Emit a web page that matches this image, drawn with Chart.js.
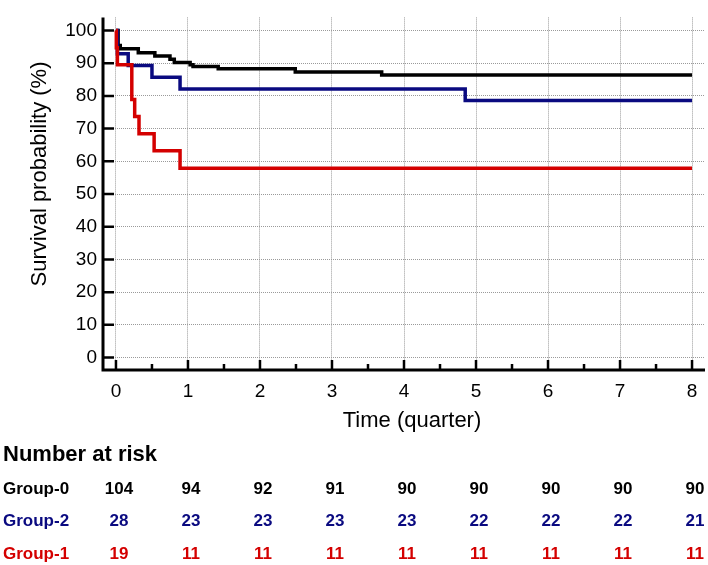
<!DOCTYPE html>
<html>
<head>
<meta charset="utf-8">
<script src="https://cdn.jsdelivr.net/npm/chart.js@4.4.1/dist/chart.umd.min.js"></script>
<style>
  body { margin: 0; background: #fff; }
  #wrap { width: 708px; height: 565px; }
</style>
</head>
<body>
<div id="wrap"><canvas id="kmChart" width="708" height="565"></canvas></div>
<script>
// Kaplan-Meier steps (time in quarters, survival in %)
var timeGroup0 = [0, 0.03, 0.06, 0.31, 0.54, 0.75, 0.81, 1.03, 1.07, 1.42, 2.49, 3.69, 8];
var survGroup0 = [100, 95.4, 94.4, 93.2, 92.2, 91.2, 90.2, 89.5, 89.0, 88.3, 87.3, 86.4, 86.4];

var timeGroup2 = [0, 0.02, 0.17, 0.5, 0.89, 4.85, 8];
var survGroup2 = [100, 92.9, 89.3, 85.7, 82.1, 78.6, 78.6];

var timeGroup1 = [0, 0.005, 0.02, 0.22, 0.26, 0.32, 0.53, 0.89, 8];
var survGroup1 = [100, 94.7, 89.5, 78.9, 73.7, 68.4, 63.2, 57.9, 57.9];

var xTicks = [0, 1, 2, 3, 4, 5, 6, 7, 8];
var yTicks = [0, 10, 20, 30, 40, 50, 60, 70, 80, 90, 100];

// number at risk table
var riskTimes = [0, 1, 2, 3, 4, 5, 6, 7, 8];
var riskGroup0 = [104, 94, 92, 91, 90, 90, 90, 90, 90];
var riskGroup2 = [28, 23, 23, 23, 23, 22, 22, 22, 21];
var riskGroup1 = [19, 11, 11, 11, 11, 11, 11, 11, 11];

var BLACK = '#000000';
var BLUE = '#0a0a80';
var RED = '#d40000';
var FONT = '"Liberation Sans", Arial, sans-serif';

function toPoints(xs, ys) {
    return xs.map((x, i) => ({ x: x, y: ys[i] }));
}

var axesAndTable = {
    id: 'axesAndTable',
    afterDraw(chart) {
        var ctx = chart.ctx;
        var area = chart.chartArea;
        var xs = chart.scales.x;
        var ys = chart.scales.y;
        ctx.save();

        // axis lines
        ctx.strokeStyle = '#000';
        ctx.lineWidth = 3;
        ctx.beginPath();
        ctx.moveTo(area.left, area.top);
        ctx.lineTo(area.left, area.bottom);
        ctx.lineTo(area.right, area.bottom);
        ctx.stroke();

        // inward ticks
        ctx.lineWidth = 2.5;
        ctx.beginPath();
        yTicks.forEach(v => {
            var py = ys.getPixelForValue(v);
            ctx.moveTo(area.left, py);
            ctx.lineTo(area.left + 11, py);
        });
        for (var t = 0; t <= 8; t += 0.5) {
            var px = xs.getPixelForValue(t);
            var len = (t % 1 === 0) ? 10 : 6;
            ctx.moveTo(px, area.bottom);
            ctx.lineTo(px, area.bottom - len);
        }
        ctx.stroke();

        // axis titles
        ctx.fillStyle = '#000';
        ctx.font = '22px ' + FONT;
        ctx.textAlign = 'center';
        ctx.textBaseline = 'alphabetic';
        ctx.fillText('Time (quarter)', 412, 427);

        ctx.save();
        ctx.translate(46, 174);
        ctx.rotate(-Math.PI / 2);
        ctx.fillText('Survival probability (%)', 0, 0);
        ctx.restore();

        // number at risk
        ctx.textAlign = 'left';
        ctx.font = 'bold 22px ' + FONT;
        ctx.fillText('Number at risk', 3, 461);

        var rows = [
            { name: 'Group-0', vals: riskGroup0, color: BLACK, y: 494 },
            { name: 'Group-2', vals: riskGroup2, color: BLUE, y: 526 },
            { name: 'Group-1', vals: riskGroup1, color: RED, y: 559 }
        ];
        ctx.font = 'bold 17px ' + FONT;
        rows.forEach(r => {
            ctx.fillStyle = r.color;
            ctx.textAlign = 'left';
            ctx.fillText(r.name, 3, r.y);
            ctx.textAlign = 'center';
            r.vals.forEach((v, i) => {
                ctx.fillText(String(v), xs.getPixelForValue(riskTimes[i]) + 3, r.y);
            });
        });
        ctx.restore();
    }
};

var ctx = document.getElementById('kmChart').getContext('2d');
new Chart(ctx, {
    type: 'line',
    data: {
        datasets: [
            { label: 'Group-0', data: toPoints(timeGroup0, survGroup0), borderColor: BLACK, order: 3 },
            { label: 'Group-2', data: toPoints(timeGroup2, survGroup2), borderColor: BLUE, order: 2 },
            { label: 'Group-1', data: toPoints(timeGroup1, survGroup1), borderColor: RED, order: 1 }
        ]
    },
    options: {
        responsive: false,
        animation: false,
        devicePixelRatio: 1,
        layout: { padding: { left: 0, top: 2, right: 3, bottom: 0 } },
        elements: {
            line: { stepped: true, borderWidth: 3.5, fill: false, tension: 0 },
            point: { radius: 0, hoverRadius: 0 }
        },
        plugins: {
            legend: { display: false },
            tooltip: { enabled: false }
        },
        scales: {
            x: {
                type: 'linear',
                min: -0.18,
                max: 8.18,
                afterBuildTicks: s => { s.ticks = xTicks.map(v => ({ value: v })); },
                afterFit: s => { s.height = 195; },
                grid: { color: '#9a9a9a', lineWidth: 1, drawTicks: false },
                border: { display: false, dash: [1, 1] },
                ticks: {
                    color: '#000',
                    padding: 10,
                    maxRotation: 0,
                    font: { family: FONT, size: 19 }
                }
            },
            y: {
                type: 'linear',
                min: -3.8,
                max: 104,
                afterBuildTicks: s => { s.ticks = yTicks.map(v => ({ value: v })); },
                afterFit: s => { s.width = 103; },
                grid: { color: '#9a9a9a', lineWidth: 1, drawTicks: false },
                border: { display: false, dash: [1, 1] },
                ticks: {
                    color: '#000',
                    padding: 6,
                    font: { family: FONT, size: 19 }
                }
            }
        }
    },
    plugins: [axesAndTable]
});
</script>
</body>
</html>
